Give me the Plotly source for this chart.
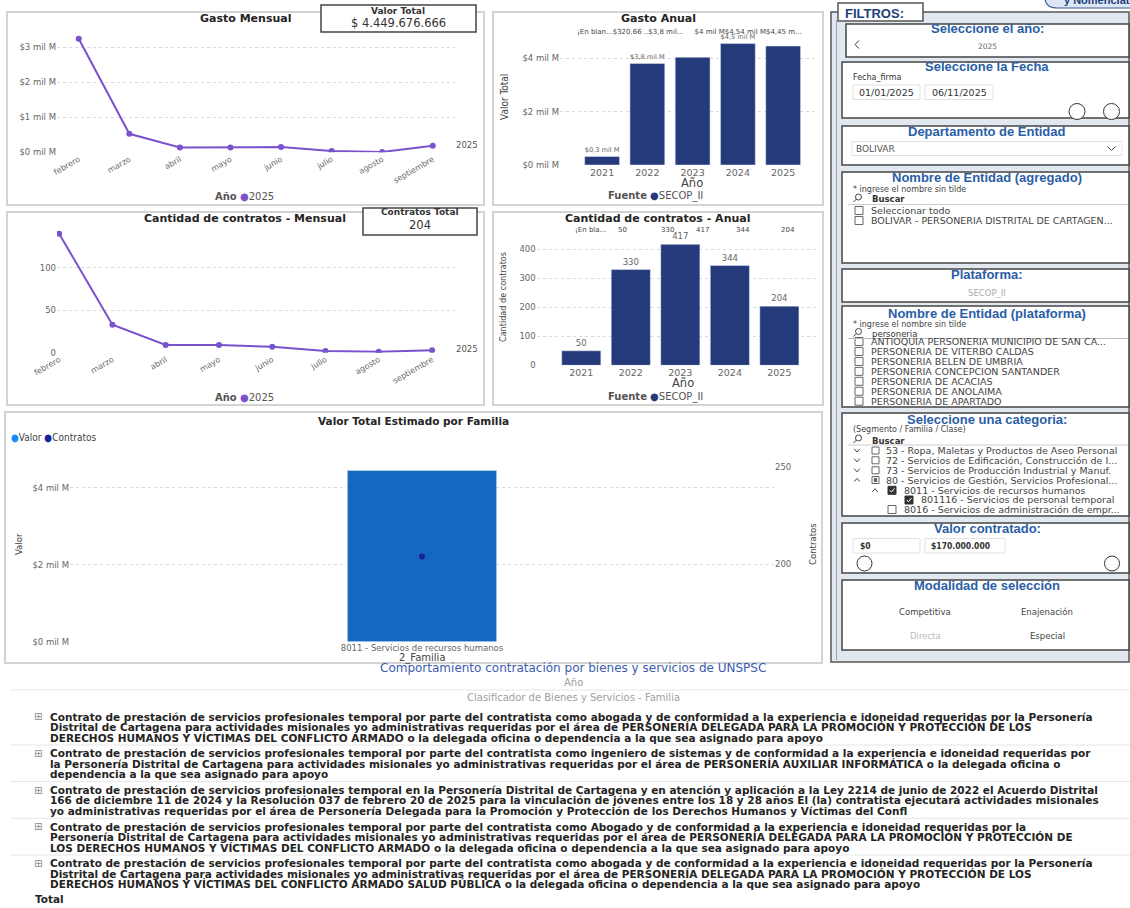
import plotly.graph_objects as go

W, H = 1130, 908
def X(px): return px / W
def Y(py): return 1 - py / H

FONT = "DejaVu Sans"
CFONT = "DejaVu Sans Condensed"
AFONT = "Liberation Sans"
PURPLE = "#7A52CE"
NAVY = "#253A7B"
BLUE_BAR = "#1468C0"
DOT = "#1A1F9C"
GRID = "#D9D9D9"
TICK = "#666666"
FBLUE = "#2A5EA6"

# ---------------- data ----------------
meses = ["febrero", "marzo", "abril", "mayo", "junio", "julio", "agosto", "septiembre"]
gasto_mensual = [3.25e9, 0.53e9, 0.14e9, 0.14e9, 0.15e9, 0.04e9, 0.01e9, 0.19e9]
contratos_mensual = [140, 33, 9, 9, 7, 2, 1, 3]
anios = ["2021", "2022", "2023", "2024", "2025"]
gasto_anual = [0.32066e9, 3.8e9, 4.03e9, 4.54e9, 4.45e9]
gasto_label_visible = [True, True, False, True, False]
contratos_anual = [50, 330, 417, 344, 204]
gasto_header = "¡En blan...$320,66 ..$3,8 mil...     $4 mil M$4,54 mil M$4,45 m..."
contratos_header = ["¡En bla...", "50", "330", "417", "344", "204"]
familia = ["8011 - Servicios de recursos humanos"]
familia_valor = [4.45e9]
familia_contratos = [204]
valor_total = 4449676666
contratos_total = 204
anio_sel = "2025"
fuente = "SECOP_II"

mil_m_vals = [0, 1e9, 2e9, 3e9, 4e9]
mil_m_text = ["$0 mil M", "$1 mil M", "$2 mil M", "$3 mil M", "$4 mil M"]

entidades_plataforma = ["ANTIOQUIA PERSONERIA MUNICIPIO DE SAN CA...", "PERSONERIA DE VITERBO CALDAS",
                        "PERSONERIA BELEN DE UMBRIA", "PERSONERIA CONCEPCION SANTANDER",
                        "PERSONERIA DE ACACIAS", "PERSONERIA DE ANOLAIMA", "PERSONERIA DE APARTADO"]

tabla_filas = [
    ["Contrato de prestación de servicios profesionales temporal por parte del contratista como abogada y de conformidad a la experiencia e idoneidad requeridas por la Personería",
     "Distrital de Cartagena para actividades misionales yo administrativas requeridas por el área de PERSONERÍA DELEGADA PARA LA PROMOCIÓN Y PROTECCIÓN DE LOS",
     "DERECHOS HUMANOS Y VÍCTIMAS DEL CONFLICTO ARMADO o la delegada oficina o dependencia a la que sea asignado para apoyo"],
    ["Contrato de prestación de servicios profesionales temporal por parte del contratista como ingeniero de sistemas y de conformidad a la experiencia e idoneidad requeridas por",
     "la Personería Distrital de Cartagena para actividades misionales yo administrativas requeridas por el área de PERSONERÍA AUXILIAR INFORMÁTICA o la delegada oficina o",
     "dependencia a la que sea asignado para apoyo"],
    ["Contrato de prestación de servicios profesionales temporal en la Personería Distrital de Cartagena y en atención y aplicación a la Ley 2214 de junio de 2022 el Acuerdo Distrital",
     "166 de diciembre 11 de 2024 y la Resolución 037 de febrero 20 de 2025 para la vinculación de jóvenes entre los 18 y 28 años El (la) contratista ejecutará actividades misionales",
     "yo administrativas requeridas por el área de Personería Delegada para la Promoción y Protección de los Derechos Humanos y Víctimas del Confl"],
    ["Contrato de prestación de servicios profesionales temporal por parte del contratista como Abogado y de conformidad a la experiencia e idoneidad requeridas por la",
     "Personería Distrital de Cartagena para actividades misionales yo administrativas requeridas por el área de PERSONERÍA DELEGADA PARA LA PROMOCIÓN Y PROTECCIÓN DE",
     "LOS DERECHOS HUMANOS Y VÍCTIMAS DEL CONFLICTO ARMADO o la delegada oficina o dependencia a la que sea asignado para apoyo"],
    ["Contrato de prestación de servicios profesionales temporal por parte del contratista como abogada y de conformidad a la experiencia e idoneidad requeridas por la Personería",
     "Distrital de Cartagena para actividades misionales yo administrativas requeridas por el área de PERSONERÍA DELEGADA PARA LA PROMOCIÓN Y PROTECCIÓN DE LOS",
     "DERECHOS HUMANOS Y VÍCTIMAS DEL CONFLICTO ARMADO SALUD PÚBLICA o la delegada oficina o dependencia a la que sea asignado para apoyo"],
]

# ---------------- helpers ----------------
shapes, annotations = [], []

def rect(x0, y0, x1, y1, line="#C8C8C8", width=1, fill="rgba(0,0,0,0)", layer="above"):
    shapes.append(dict(type="rect", xref="paper", yref="paper", x0=X(x0), x1=X(x1), y0=Y(y1), y1=Y(y0),
                       line=dict(color=line, width=width), fillcolor=fill, layer=layer))

def hline(x0, x1, y, color="#E3E3E3", width=1):
    shapes.append(dict(type="line", xref="paper", yref="paper", x0=X(x0), x1=X(x1), y0=Y(y), y1=Y(y),
                       line=dict(color=color, width=width)))

def vline(x, y0, y1, color="#999", width=1, layer="above"):
    shapes.append(dict(type="line", xref="paper", yref="paper", x0=X(x), x1=X(x), y0=Y(y0), y1=Y(y1),
                       line=dict(color=color, width=width), layer=layer))

def circle(cx, cy, r, line="#333", width=1):
    shapes.append(dict(type="circle", xref="paper", yref="paper", x0=X(cx - r), x1=X(cx + r),
                       y0=Y(cy + r), y1=Y(cy - r), line=dict(color=line, width=width), fillcolor="white"))

def path(points, color="#444", width=1, fill=None, close=False):
    d = "M " + " L ".join(f"{X(a)},{Y(b)}" for a, b in points) + (" Z" if close else "")
    s = dict(type="path", xref="paper", yref="paper", path=d, line=dict(color=color, width=width))
    if fill:
        s["fillcolor"] = fill
    shapes.append(s)

def txt(px, py, s, size=9, color="#333", anchor="center", family=FONT, angle=0, vanchor="middle"):
    annotations.append(dict(xref="paper", yref="paper", x=X(px), y=Y(py), text=s, showarrow=False,
                            xanchor=anchor, yanchor=vanchor, textangle=angle,
                            font=dict(size=size, color=color, family=family)))

def checkbox(x, y, s=8, state="empty"):
    if state == "checked":
        rect(x, y - s / 2, x + s, y + s / 2, line="#333", width=1, fill="#333")
        path([(x + 1.8, y), (x + 3.5, y + 1.8), (x + 6.5, y - 2)], color="white", width=1)
    else:
        rect(x, y - s / 2, x + s, y + s / 2, line="#666", width=1, fill="white")
        if state == "partial":
            rect(x + 2.2, y - 1.8, x + s - 2.2, y + 1.8, line="#555", width=0.5, fill="#555")

def chevron(x, y, up=False, w=3.5, h=2):
    if up:
        path([(x - w, y + h), (x, y - h), (x + w, y + h)], color="#444", width=1)
    else:
        path([(x - w, y - h), (x, y + h), (x + w, y - h)], color="#444", width=1)

def search_icon(x, y):
    circle(x + 1.5, y - 1.5, 3, line="#444", width=1)
    path([(x - 0.6, y + 0.6), (x - 3.5, y + 3.5)], color="#444", width=1)

def fmt_mil_m(v):
    return f"${v / 1e9:.1f} mil M".replace(".", ",")

# ---------------- traces ----------------
fig = go.Figure()
fig.add_trace(go.Scatter(x=meses, y=gasto_mensual, mode="lines+markers", xaxis="x", yaxis="y",
                         line=dict(color=PURPLE, width=2), marker=dict(color=PURPLE, size=6), showlegend=False))
fig.add_trace(go.Bar(x=anios, y=gasto_anual, xaxis="x2", yaxis="y2", marker_color=NAVY, width=0.77,
                     text=[fmt_mil_m(v) if s else "" for v, s in zip(gasto_anual, gasto_label_visible)],
                     textposition="outside", cliponaxis=False,
                     textfont=dict(size=8.5, color="#666", family=FONT), showlegend=False))
fig.add_trace(go.Scatter(x=meses, y=contratos_mensual, mode="lines+markers", xaxis="x3", yaxis="y3",
                         line=dict(color=PURPLE, width=2), marker=dict(color=PURPLE, size=6), showlegend=False))
fig.add_trace(go.Bar(x=anios, y=contratos_anual, xaxis="x4", yaxis="y4", marker_color=NAVY, width=0.79,
                     text=[str(v) for v in contratos_anual], textposition="outside", cliponaxis=False,
                     textfont=dict(size=8.5, color="#666", family=FONT), showlegend=False))
fig.add_trace(go.Bar(x=familia, y=familia_valor, xaxis="x5", yaxis="y5", marker_color=BLUE_BAR, width=0.212,
                     showlegend=False))
fig.add_trace(go.Scatter(x=familia, y=familia_contratos, mode="markers", xaxis="x5", yaxis="y6",
                         marker=dict(color=DOT, size=6), showlegend=False))

def xax(d0, d1, rng, anchor, angle=0, size=8.5, **kw):
    return dict(domain=[X(d0), X(d1)], range=rng, anchor=anchor, type="category", showgrid=False,
                showline=False, zeroline=False, ticks="", tickangle=angle,
                tickfont=dict(size=size, color=TICK, family=FONT), automargin=False, fixedrange=True, **kw)

def yax(top, bottom, rng, vals, text=None, anchor=None, size=8.5, **kw):
    d = dict(domain=[Y(bottom), Y(top)], range=rng, tickvals=vals, anchor=anchor, showgrid=True,
             gridcolor=GRID, griddash="dot", gridwidth=1, zeroline=False, showline=False, ticks="",
             tickfont=dict(size=size, color=TICK, family=FONT), automargin=False, fixedrange=True, **kw)
    if text is not None:
        d["ticktext"] = text
    return d

layout = dict(
    width=W, height=H, margin=dict(l=0, r=0, t=0, b=0),
    paper_bgcolor="white", plot_bgcolor="rgba(0,0,0,0)",
    xaxis=xax(57, 455, [-0.43, 7.44], "y", angle=-30, size=8),
    yaxis=yax(30, 152.3, [0, 3.5e9], mil_m_vals[:4], mil_m_text[:4], anchor="x"),
    xaxis2=xax(560, 818, [-0.93, 4.77], "y2", size=9.5),
    yaxis2=yax(38, 165, [0, 4.75e9], [0, 2e9, 4e9], ["$0 mil M", "$2 mil M", "$4 mil M"], anchor="x2"),
    xaxis3=xax(57, 455, [-0.04, 7.43], "y3", angle=-30, size=8),
    yaxis3=yax(228, 352.7, [0, 146.7], [0, 50, 100], anchor="x3"),
    xaxis4=xax(536.7, 818, [-0.9, 4.78], "y4", size=9.5),
    yaxis4=yax(240, 365.3, [0, 432], [0, 100, 200, 300, 400], anchor="x4"),
    xaxis5=xax(70, 774, [-0.5, 0.5], "y5", size=8.5),
    yaxis5=yax(455, 641.7, [0, 4.85e9], [0, 2e9, 4e9], ["$0 mil M", "$2 mil M", "$4 mil M"], anchor="x5", size=8.5),
    yaxis6=dict(domain=[Y(641.7), Y(455)], range=[160.1, 256.3], tickvals=[200, 250], overlaying="y5",
                side="right", anchor="x5", showgrid=False, zeroline=False, showline=False, ticks="",
                tickfont=dict(size=8.5, color=TICK, family=FONT), automargin=False, fixedrange=True),
)

# ---------------- chart panels ----------------
for (a, b, c, d) in [(7, 12, 484, 205), (493, 12, 823, 205), (7, 212, 484, 405), (493, 212, 823, 405), (5, 412, 822, 663)]:
    rect(a, b, c, d, line="#D3D3D3", width=2)

# Gasto Mensual
txt(245, 19, "<b>Gasto Mensual</b>", size=11, color="#252423")
rect(321, 5, 476, 32, line="#444", width=1.5, fill="white")
txt(398, 11, "<b>Valor Total</b>", size=9, color="#333")
txt(398, 23, "$ " + f"{valor_total:,}".replace(",", "."), size=11.5, color="#333")
txt(467, 145, anio_sel, size=8.5, color="#555")
txt(244, 196, f"<b>Año</b> <span style='color:{PURPLE}'>●</span>{anio_sel}", size=10, color="#555")

# Gasto Anual
txt(658, 18, "<b>Gasto Anual</b>", size=11, color="#252423")
txt(575, 32, gasto_header, size=7, color="#444", anchor="left")
txt(504, 97, "Valor Total", size=10, color="#444", angle=-90, family=CFONT)
txt(692, 183, "Año", size=11.5, color="#444")
txt(655, 196, f"<b>Fuente</b> <span style='color:{NAVY}'>●</span>{fuente}", size=10, color="#555")

# Cantidad Mensual
txt(245, 219, "<b>Cantidad de contratos - Mensual</b>", size=11, color="#252423")
rect(363, 208, 477, 235, line="#444", width=1.5, fill="white")
txt(420, 212, "<b>Contratos Total</b>", size=9, color="#333")
txt(420, 225, str(contratos_total), size=11.5, color="#333")
txt(467, 349, anio_sel, size=8.5, color="#555")
txt(244, 397, f"<b>Año</b> <span style='color:{PURPLE}'>●</span>{anio_sel}", size=10, color="#555")

# Cantidad Anual
txt(658, 219, "<b>Cantidad de contratos - Anual</b>", size=11, color="#252423")
for s, xp in zip(contratos_header, [590, 622, 667, 702, 743, 788]):
    txt(xp, 230, s, size=7, color="#444")
txt(503, 297, "Cantidad de contratos", size=9, color="#444", angle=-90, family=CFONT)
txt(683, 383, "Año", size=11.5, color="#444")
txt(655, 397, f"<b>Fuente</b> <span style='color:{NAVY}'>●</span>{fuente}", size=10, color="#555")

# Familia
txt(413, 421, "<b>Valor Total Estimado por Familia</b>", size=10.5, color="#252423")
txt(9, 437, "<span style='color:#118DFF'>●</span>Valor <span style='color:#12239E'>●</span>Contratos",
    size=10, color="#444", anchor="left", family=CFONT)
txt(18, 544, "Valor", size=9.5, color="#444", angle=-90, family=CFONT)
txt(812, 544, "Contratos", size=9.5, color="#444", angle=-90, family=CFONT)
txt(422, 658, "2_Familia", size=10, color="#444")

# ---------------- table ----------------
txt(573, 668, "Comportamiento contratación por bienes y servicios de UNSPSC", size=12, color="#3A5BB0")
txt(573, 682, "Año", size=10, color="#A0A0A0")
hline(10, 1130, 690, color="#E6E6E6")
txt(573, 697, "Clasificador de Bienes y Servicios - Familia", size=10, color="#A0A0A0")
row_y = [716.7, 753.3, 790, 826.7, 863.3]
for i, (lines, y0) in enumerate(zip(tabla_filas, row_y)):
    txt(38, y0, "⊞", size=10, color="#888")
    for j, ln in enumerate(lines):
        txt(48, y0 + j * 10.4, "<b>" + ln + "</b>", size=10.5, color="#252423", anchor="left")
    if i < len(tabla_filas) - 1:
        hline(10, 1130, y0 + 28.3, color="#E6E6E6")
txt(33, 899, "<b>Total</b>", size=10.5, color="#252423", anchor="left")

# ---------------- filter panel ----------------
rect(831, 12, 1129, 662, line="#555", width=1.5, fill="#E1E8F0", layer="below")
vline(836.5, 20, 660, color="#9AA4AE", width=1)
boxes = [(846, 24, 1129, 57), (842, 62, 1129, 118), (842, 126, 1129, 165), (842, 172, 1129, 263),
         (842, 269, 1129, 302), (842, 306, 1129, 407), (842, 413, 1129, 516), (842, 523, 1129, 573),
         (842, 580, 1129, 650)]
for b in boxes:
    rect(*b, line="#444", width=1.5, fill="white", layer="below")
rect(838, 3, 923, 21, line="#555", width=1.5, fill="white")
txt(843, 13, "<b>FILTROS:</b>", size=13, color="#1F3F7A", anchor="left", family=AFONT)

# top-right button
shapes.append(dict(type="path", xref="paper", yref="paper",
                   path=f"M {X(1045)},{Y(-6)} L {X(1045)},{Y(-2)} Q {X(1045)},{Y(8)} {X(1058)},{Y(8)} L {X(1140)},{Y(8)} L {X(1140)},{Y(-6)} Z",
                   line=dict(color="#3E5E93", width=1.2), fillcolor="#DCE6F4"))
txt(1062, 0, "<b>y Nomenclatura</b>", size=11, color="#1F3F7A", anchor="left", family=AFONT)

FT = 13
LI = 9.5
txt(987, 29, "<b>Seleccione el año:</b>", size=FT, color=FBLUE, family=AFONT)
path([(859, 40.5), (855, 44.5), (859, 48.5)], color="#333", width=1)
txt(987, 46.5, anio_sel, size=7.5, color="#666")

txt(987, 67, "<b>Seleccione la Fecha</b>", size=FT, color=FBLUE, family=AFONT)
txt(851, 77, "Fecha_firma", size=8, color="#333", anchor="left")
rect(853, 85, 920, 99.5, line="#E2E2E2", width=1, fill="white")
rect(925, 85, 993, 99.5, line="#E2E2E2", width=1, fill="white")
txt(886.5, 92, "01/01/2025", size=9.5, color="#333")
txt(959, 92, "06/11/2025", size=9.5, color="#333")
circle(1077, 111.5, 8)
circle(1111.5, 111.5, 8)

txt(987, 131, "<b>Departamento de Entidad</b>", size=FT, color=FBLUE, family=AFONT)
rect(852, 141.5, 1122, 155.5, line="#E2E2E2", width=1, fill="white")
txt(854, 149, "BOLIVAR", size=9, color="#555", anchor="left")
chevron(1111.5, 148.5, w=4, h=2)

txt(987, 177.5, "<b>Nombre de Entidad (agregado)</b>", size=FT, color=FBLUE, family=AFONT)
txt(851, 189, "* ingrese el nombre sin tilde", size=8, color="#444", anchor="left")
search_icon(857, 198.5)
txt(870, 199, "<b>Buscar</b>", size=8.5, color="#333", anchor="left")
hline(848, 1128, 204.5, color="#CCCCCC")
checkbox(855, 210.5)
txt(869, 210.5, "Seleccionar todo", size=LI, color="#444", anchor="left")
checkbox(855, 220.5)
txt(869, 220.5, "BOLIVAR - PERSONERIA DISTRITAL DE CARTAGEN...", size=LI, color="#444", anchor="left")

txt(987, 275, "<b>Plataforma:</b>", size=FT, color=FBLUE, family=AFONT)
txt(987, 293, fuente, size=8.5, color="#AAAAAA")

txt(987, 313.5, "<b>Nombre de Entidad (plataforma)</b>", size=FT, color=FBLUE, family=AFONT)
txt(851, 324, "* ingrese el nombre sin tilde", size=8, color="#444", anchor="left")
search_icon(857, 333)
txt(870, 334, "personeria", size=8.5, color="#333", anchor="left")
for k, ent in enumerate(entidades_plataforma):
    yy = 341.5 + k * 9.95
    checkbox(855, yy)
    txt(869, yy, ent, size=LI, color="#444", anchor="left")
hline(848, 1128, 338.5, color="#BBBBBB")

txt(987, 419, "<b>Seleccione una categoria:</b>", size=FT, color=FBLUE, family=AFONT)
txt(851, 429.5, "(Segmento / Familia / Clase)", size=8, color="#444", anchor="left")
search_icon(857, 439.5)
txt(870, 441, "<b>Buscar</b>", size=8.5, color="#333", anchor="left")
hline(848, 1128, 445, color="#CCCCCC")
cats = [("53 - Ropa, Maletas y Productos de Aseo Personal", 450.5, 872, "down", "empty"),
        ("72 - Servicios de Edificación, Construcción de I...", 460.3, 872, "down", "empty"),
        ("73 - Servicios de Producción Industrial y Manuf.", 470.3, 872, "down", "empty"),
        ("80 - Servicios de Gestión, Servicios Profesional...", 480, 872, "up", "partial")]
for label, yy, cx, ch, st in cats:
    chevron(857, yy, up=(ch == "up"), w=2.8, h=1.6)
    checkbox(cx, yy, s=7, state=st)
    txt(884, yy, label, size=LI, color="#444", anchor="left")
chevron(875, 490.3, up=True, w=2.8, h=1.6)
checkbox(888, 490.3, s=8, state="checked")
txt(902, 490.3, "8011 - Servicios de recursos humanos", size=LI, color="#444", anchor="left")
checkbox(905, 500, s=8, state="checked")
txt(919, 500, "801116 - Servicios de personal temporal", size=LI, color="#444", anchor="left")
checkbox(888, 509.5, s=8)
txt(902, 509.5, "8016 - Servicios de administración de empr...", size=LI, color="#444", anchor="left")

txt(987, 528.5, "<b>Valor contratado:</b>", size=FT, color=FBLUE, family=AFONT)
rect(853, 538.5, 920, 553, line="#E2E2E2", width=1, fill="white")
rect(925, 538.5, 1005, 553, line="#E2E2E2", width=1, fill="white")
txt(858, 545.5, "<b>$0</b>", size=8.5, color="#333", anchor="left", family=CFONT)
txt(929, 545.5, "<b>$170.000.000</b>", size=8.5, color="#333", anchor="left", family=CFONT)
circle(864.5, 563.5, 7.5)
circle(1112, 563.5, 7.5)

txt(987, 585.5, "<b>Modalidad de selección</b>", size=FT, color=FBLUE, family=AFONT)
txt(925, 612, "Competitiva", size=8.5, color="#444")
txt(1047, 612, "Enajenación", size=8.5, color="#444")
txt(925, 636, "Directa", size=8.5, color="#BBBBBB")
txt(1047, 636, "Especial", size=8.5, color="#444")

layout["shapes"] = shapes
layout["annotations"] = annotations
fig.update_layout(**layout)
fig.write_html("out.html", config={"displayModeBar": False},
               post_script="document.body.style.margin='0';document.body.style.overflow='hidden';")
